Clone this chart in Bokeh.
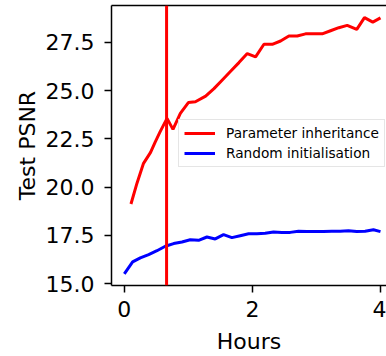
from bokeh.plotting import figure
from bokeh.models import Span, LinearAxis, FixedTicker, Legend, LegendItem, Range1d
from bokeh.embed import file_html
from bokeh.resources import INLINE

# Data
red_hours = [0.104, 0.198, 0.30, 0.41, 0.48, 0.56, 0.667, 0.76, 0.875, 1.0, 1.11, 1.27, 1.4,
             1.53, 1.66, 1.79, 1.92, 2.05, 2.18, 2.31, 2.44, 2.57, 2.70, 2.83, 2.96, 3.09,
             3.22, 3.35, 3.48, 3.63, 3.75, 3.88, 4.0]
red_psnr = [19.12, 20.2, 21.23, 21.8, 22.32, 22.87, 23.56, 22.99, 23.82, 24.38, 24.42, 24.71, 25.1,
            25.55, 26.0, 26.45, 26.92, 26.75, 27.4, 27.4, 27.57, 27.83, 27.83, 27.94, 27.94, 27.94,
            28.1, 28.26, 28.38, 28.17, 28.78, 28.55, 28.77]
blue_hours = [0.0, 0.13, 0.25, 0.38, 0.51, 0.64, 0.77, 0.9, 1.03, 1.16, 1.29, 1.42, 1.55, 1.68,
              1.81, 1.94, 2.07, 2.2, 2.33, 2.46, 2.59, 2.72, 2.85, 2.98, 3.11, 3.24, 3.37,
              3.5, 3.63, 3.76, 3.89, 4.0]
blue_psnr = [15.5, 16.12, 16.33, 16.5, 16.7, 16.93, 17.07, 17.15, 17.27, 17.24, 17.41, 17.31,
             17.53, 17.38, 17.48, 17.58, 17.58, 17.6, 17.67, 17.64, 17.65, 17.71, 17.69, 17.69,
             17.69, 17.71, 17.71, 17.74, 17.69, 17.71, 17.79, 17.69]
vline_hours = 0.66
x_ticks = [0, 2, 4]
y_ticks = [15.0, 17.5, 20.0, 22.5, 25.0, 27.5]
series_labels = ["Parameter inheritance", "Random initialisation"]

FONT = "DejaVu Sans"

p = figure(width=386, height=356, output_backend="svg", toolbar_location=None,
           x_range=Range1d(-0.2, 4.094), y_range=Range1d(14.897, 29.41),
           min_border_left=111, min_border_right=0, min_border_top=5, min_border_bottom=70)
p.outline_line_color = None
p.grid.visible = False
p.background_fill_color = "white"
p.border_fill_color = "white"

r1 = p.line(red_hours, red_psnr, line_color="#ff0000", line_width=3)
r2 = p.line(blue_hours, blue_psnr, line_color="#0000ff", line_width=3)
p.add_layout(Span(location=vline_hours, dimension="height", line_color="#ff0000", line_width=3))

p.xaxis.ticker = FixedTicker(ticks=x_ticks)
p.yaxis.ticker = FixedTicker(ticks=y_ticks)
p.yaxis.major_label_overrides = {t: f"{t:.1f}" for t in y_ticks}
p.xaxis.axis_label = "Hours"
p.yaxis.axis_label = "Test PSNR"
for ax in (p.xaxis[0], p.yaxis[0]):
    ax.axis_line_width = 1.5
    ax.axis_line_color = "black"
    ax.major_tick_line_width = 1.5
    ax.major_tick_line_color = "black"
    ax.major_tick_in = 0
    ax.major_tick_out = 7
    ax.minor_tick_line_color = None
    ax.major_label_text_font = FONT
    ax.major_label_text_font_size = "22px"
    ax.major_label_text_color = "black"
    ax.axis_label_text_font = FONT
    ax.axis_label_text_font_size = "22px"
    ax.axis_label_text_font_style = "normal"
    ax.axis_label_text_color = "black"
p.yaxis.major_label_standoff = 10
p.xaxis.major_label_standoff = 8
p.yaxis.axis_label_standoff = 3
p.xaxis.axis_label_standoff = 9

top = LinearAxis(ticker=FixedTicker(ticks=[]), axis_line_width=1.5, axis_line_color="black",
                 major_tick_out=0, major_tick_in=0, minor_tick_out=0, minor_tick_in=0,
                 major_label_text_font_size="0px")
p.add_layout(top, "above")

legend = Legend(items=[LegendItem(label=series_labels[0], renderers=[r1]),
                       LegendItem(label=series_labels[1], renderers=[r2])],
                location=(67, 118))
legend.label_text_font = FONT
legend.label_text_font_size = "13.7px"
legend.label_text_color = "black"
legend.glyph_width = 31
legend.glyph_height = 16
legend.label_height = 16
legend.label_standoff = 11
legend.spacing = 4
legend.padding = 5
legend.margin = 0
legend.border_line_color = "#cccccc"
legend.border_line_width = 1
legend.background_fill_alpha = 0.8
p.add_layout(legend)

open("out.html", "w").write(file_html(p, INLINE))
